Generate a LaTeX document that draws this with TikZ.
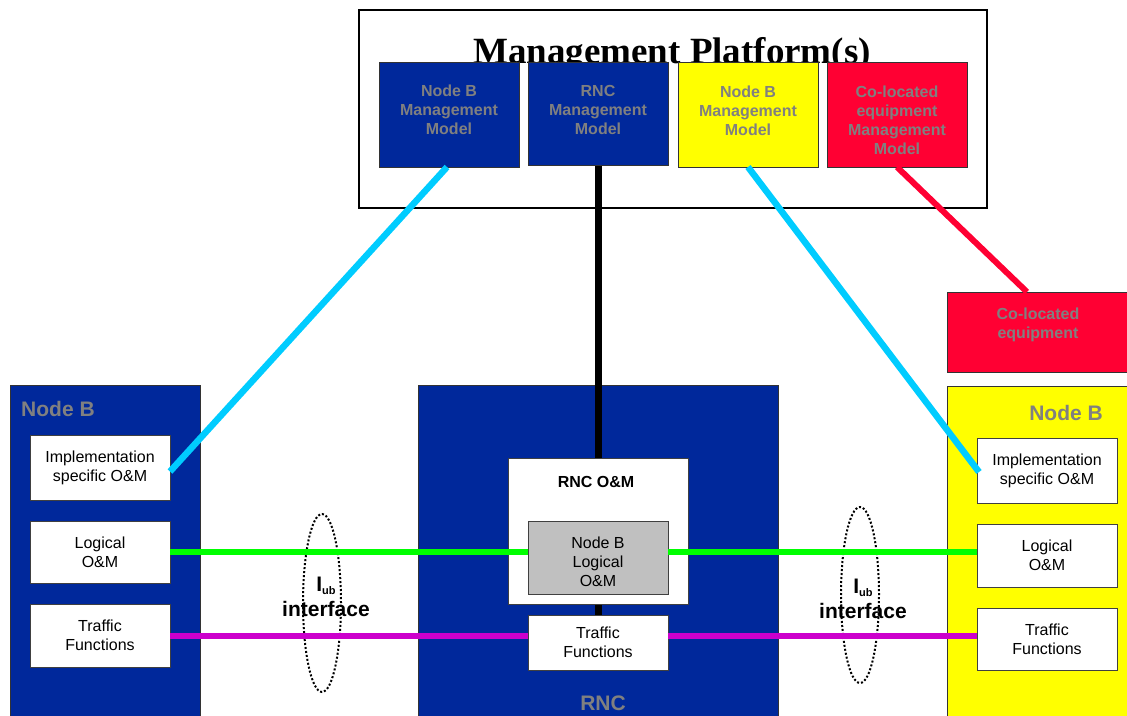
\documentclass[tikz,border=0pt]{standalone}
\usepackage{fontspec}
\newfontfamily\arialf{Liberation Sans}
\newfontfamily\serff{Liberation Serif}
\usetikzlibrary{calc}
\definecolor{nbblue}{RGB}{0,40,155}
\definecolor{nbyellow}{RGB}{255,255,0}
\definecolor{cored}{RGB}{255,0,51}
\definecolor{lcyan}{RGB}{0,204,255}
\definecolor{lgreen}{RGB}{0,255,0}
\definecolor{lmag}{RGB}{204,0,204}
\definecolor{gtxt}{RGB}{128,128,128}
\definecolor{boxgray}{RGB}{192,192,192}
\pgfdeclarelayer{bg}\pgfdeclarelayer{mid}\pgfdeclarelayer{fg}
\pgfsetlayers{bg,mid,main,fg}
\begin{document}
\begin{tikzpicture}[x=1pt,y=-1pt,
  area/.style={draw=black!80, line width=0.8pt, inner sep=0pt, outer sep=0pt},
  mbox/.style={area, minimum width=140pt},
  wbox/.style={draw=black!75, line width=0.8pt, fill=white, inner sep=0pt, outer sep=0pt,
    align=center, minimum width=140pt, font=\arialf\fontsize{16}{19}\selectfont},
  btxt/.style={align=center, inner sep=0pt, font=\arialf\fontsize{16}{19}\selectfont},
  glbl/.style={text=gtxt, font=\arialf\bfseries\fontsize{16}{19}\selectfont, align=center, inner sep=0pt},
  biglbl/.style={text=gtxt, font=\arialf\bfseries\fontsize{21}{25}\selectfont, inner sep=0pt},
  iublbl/.style={text=black, font=\arialf\bfseries\fontsize{21}{25}\selectfont, align=center, inner sep=0pt},
  iub/.style={draw=black, line width=2pt, dash pattern=on 2pt off 2pt},
  conn/.style={line width=6.5pt}]
\useasboundingbox (0,0) rectangle (1127,715);

% containers
\begin{pgfonlayer}{bg}
\node[draw=black, line width=2pt, fill=white, minimum width=628pt, minimum height=198pt, inner sep=0pt, outer sep=0pt] (mp) at (673,109) {};
\node[font=\serff\bfseries\fontsize{37}{40}\selectfont, anchor=base, inner sep=0pt] (mptitle) at (672,63) {Management Platform(s)};
\node[area, fill=nbblue, minimum width=190pt, minimum height=345pt] (lnb) at (105,557.5) {};
\node[area, fill=nbblue, minimum width=360pt, minimum height=345pt] (rnc) at (598,557.5) {};
\node[area, fill=nbyellow, minimum width=193pt, minimum height=344pt] (rnb) at (1043.5,558) {};
\node[area, fill=cored, minimum width=182pt, minimum height=80pt] (colo) at (1038,332) {};
\end{pgfonlayer}

% management models
\node[mbox, fill=nbblue, minimum height=105pt] (m1) at (449,114.5) {};
\node[mbox, fill=nbblue, minimum height=103pt] (m2) at (598,113.5) {};
\node[mbox, fill=nbyellow, minimum height=105pt] (m3) at (748,114.5) {};
\node[mbox, fill=cored, minimum height=105pt] (m4) at (897,114.5) {};
\node[glbl, anchor=north] (m1t) at (449,85) {Node B\\Management\\Model};
\node[glbl, anchor=north] (m2t) at (598,85) {RNC\\Management\\Model};
\node[glbl, anchor=north] (m3t) at (748,86) {Node B\\Management\\Model};
\node[glbl, anchor=north] (m4t) at (897,86) {Co-located\\equipment\\Management\\Model};

% labels of containers
\node[biglbl, anchor=west] (lnbt) at (21,409) {Node B};
\node[biglbl] (rnct) at (603,703) {RNC};
\node[biglbl] (rnbt) at (1066,413) {Node B};
\node[glbl] (colot) at (1038,325) {Co-located\\equipment};

% left Node B
\node[wbox, minimum height=65pt] (limp) at (100,467.5) {Implementation\\specific O\&M};
\node[wbox, minimum height=62pt] (llog) at (100,552) {Logical\\O\&M};
\node[wbox, minimum height=63pt] (ltraf) at (100,635.5) {Traffic\\Functions};

% RNC
\node[wbox, minimum width=180pt, minimum height=146pt] (rom) at (598,531) {};
\node[font=\arialf\bfseries\fontsize{16}{19}\selectfont, inner sep=0pt] (romt) at (596,482) {RNC O\&M};
\node[wbox, fill=boxgray, minimum height=73pt] (nbl) at (598,557.5) {};
\node[btxt] (nblt) at (598,562) {Node B\\Logical\\O\&M};
\node[wbox, minimum height=55pt] (rtraf) at (598,642.5) {Traffic\\Functions};

% right Node B
\node[wbox, minimum height=65pt] (rimp) at (1047,470.5) {Implementation\\specific O\&M};
\node[wbox, minimum height=63pt] (rlog) at (1047,555.5) {Logical\\O\&M};
\node[wbox, minimum height=62pt] (rtrafR) at (1047,639) {Traffic\\Functions};

% Iub interfaces
\node[iublbl] (iubl) at (326,596.5) {I{\fontsize{11}{13}\selectfont\raisebox{-3pt}{ub}}\\interface};
\node[iublbl] (iubr) at (863,598.5) {I{\fontsize{11}{13}\selectfont\raisebox{-3pt}{ub}}\\interface};
\draw[iub] (322,603) ellipse [x radius=19pt, y radius=89pt];
\draw[iub] (860,595) ellipse [x radius=19pt, y radius=88pt];

% connectors
\begin{pgfonlayer}{mid}
\draw[conn, black, line width=7pt] (m2.south) -- (rtraf.north);
\end{pgfonlayer}
\begin{pgfonlayer}{fg}
\draw[conn, lcyan] ([xshift=-2pt]m1.south) -- ([yshift=-4pt]limp.east);
\draw[conn, lcyan] (m3.south) -- ([xshift=2pt,yshift=-1.5pt]rimp.west);
\draw[conn, cored, line width=6pt] (m4.south) -- ([xshift=-11pt]colo.north);
\draw[conn, lgreen, line width=6pt] (llog.east) -- (llog.east -| nbl.west);
\draw[conn, lgreen, line width=6pt] (nbl.east |- llog.east) -- (rlog.west |- llog.east);
\draw[conn, lmag, line width=6pt] (ltraf.east) -- (ltraf.east -| rtraf.west);
\draw[conn, lmag, line width=6pt] (rtraf.east |- ltraf.east) -- (rtrafR.west |- ltraf.east);
\end{pgfonlayer}
\end{tikzpicture}
\end{document}
